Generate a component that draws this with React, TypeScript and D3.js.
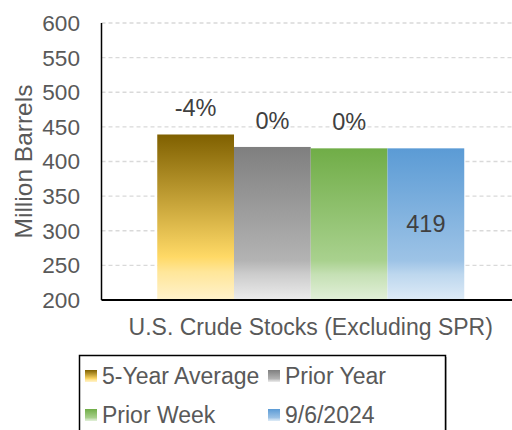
import React, { useRef, useEffect } from "react";
import * as d3 from "d3";

// data
const categories = ["U.S. Crude Stocks (Excluding SPR)"];
const seriesNames = ["5-Year Average", "Prior Year", "Prior Week", "9/6/2024"];
const seriesValues = [439, 421, 419, 419];
const barLabels = ["-4%", "0%", "0%", "419"];
const yTicks = [200, 250, 300, 350, 400, 450, 500, 550, 600];

// gradient stops per series: [offset, color]
const gradients: [number, string][][] = [
  [[0, "#7f6000"], [0.74, "#ffd966"], [0.83, "#ffe699"], [1, "#fff2cc"]],
  [[0, "#7f7f7f"], [0.74, "#b3b3b3"], [0.83, "#cccccc"], [1, "#ececec"]],
  [[0, "#70ad47"], [0.74, "#a9d18e"], [0.83, "#c5e0b4"], [1, "#e2f0d9"]],
  [[0, "#5b9bd5"], [0.74, "#9dc3e6"], [0.83, "#bdd7ee"], [1, "#deebf7"]],
];

const App: React.FC = () => {
  const svgRef = useRef<SVGSVGElement | null>(null);

  useEffect(() => {
    if (!svgRef.current) return;
    const svg = d3.select(svgRef.current);
    svg.selectAll("*").remove();

    const font = "Arial, 'Liberation Sans', sans-serif";
    const textColor = "#595959";

    // plot area
    const left = 101.5;
    const right = 520;
    const top = 23;
    const bottom = 300;

    const y = d3.scaleLinear().domain([200, 600]).range([bottom, top]);
    const x0 = d3
      .scaleBand<string>()
      .domain(categories)
      .range([left, right])
      .padding(0.1537);
    const x1 = d3
      .scaleBand<string>()
      .domain(seriesNames)
      .range([0, x0.bandwidth()])
      .padding(0);

    // gradients
    const defs = svg.append("defs");
    gradients.forEach((stops, i) => {
      const g = defs
        .append("linearGradient")
        .attr("id", `grad${i}`)
        .attr("x1", 0)
        .attr("y1", 0)
        .attr("x2", 0)
        .attr("y2", 1);
      stops.forEach(([o, c]) => {
        g.append("stop").attr("offset", o).attr("stop-color", c);
      });
    });

    // gridlines
    svg
      .append("g")
      .selectAll("line")
      .data(yTicks.filter((t) => t > 200))
      .enter()
      .append("line")
      .attr("x1", left)
      .attr("x2", 512)
      .attr("y1", (d) => y(d))
      .attr("y2", (d) => y(d))
      .attr("stroke", "#d9d9d9")
      .attr("stroke-width", 1.3)
      .attr("stroke-dasharray", "4 3");

    // y tick labels
    svg
      .append("g")
      .selectAll("text")
      .data(yTicks)
      .enter()
      .append("text")
      .attr("x", 80)
      .attr("y", (d) => y(d))
      .attr("dy", "0.35em")
      .attr("text-anchor", "end")
      .attr("font-family", font)
      .attr("font-size", 22.6)
      .attr("fill", textColor)
      .text((d) => d);

    // axis title
    svg
      .append("text")
      .attr("transform", `translate(32,161.5) rotate(-90)`)
      .attr("text-anchor", "middle")
      .attr("font-family", font)
      .attr("font-size", 24.5)
      .attr("fill", textColor)
      .text("Million Barrels");

    // bars
    const cat = categories[0];
    const barX = (i: number) => x0(cat)! + x1(seriesNames[i])!;
    svg
      .append("g")
      .selectAll("rect")
      .data(seriesValues)
      .enter()
      .append("rect")
      .attr("x", (_, i) => barX(i))
      .attr("y", (d) => y(d))
      .attr("width", x1.bandwidth())
      .attr("height", (d) => bottom - y(d))
      .attr("fill", (_, i) => `url(#grad${i})`);

    // bar labels (last one sits inside the bar)
    svg
      .append("g")
      .selectAll("text")
      .data(seriesValues)
      .enter()
      .append("text")
      .attr("x", (_, i) => barX(i) + x1.bandwidth() / 2)
      .attr("y", (d, i) =>
        i === seriesValues.length - 1 ? (y(d) + bottom) / 2 : y(d) - 18
      )
      .attr("dy", (_, i) => (i === seriesValues.length - 1 ? "0.35em" : 0))
      .attr("text-anchor", "middle")
      .attr("font-family", font)
      .attr("font-size", 23.5)
      .attr("fill", "#404040")
      .text((_, i) => barLabels[i]);

    // axes lines
    svg
      .append("line")
      .attr("x1", left)
      .attr("x2", left)
      .attr("y1", top)
      .attr("y2", bottom)
      .attr("stroke", "#000")
      .attr("stroke-width", 1.5);
    svg
      .append("line")
      .attr("x1", left)
      .attr("x2", 512)
      .attr("y1", bottom)
      .attr("y2", bottom)
      .attr("stroke", "#000")
      .attr("stroke-width", 2);

    // category label
    svg
      .append("text")
      .attr("x", x0(cat)! + x0.bandwidth() / 2)
      .attr("y", 335)
      .attr("text-anchor", "middle")
      .attr("font-family", font)
      .attr("font-size", 23)
      .attr("fill", textColor)
      .text(cat);

    // legend
    const legend = svg.append("g");
    legend
      .append("rect")
      .attr("x", 81)
      .attr("y", 357)
      .attr("width", 366)
      .attr("height", 90)
      .attr("fill", "#bfbfbf");
    legend
      .append("rect")
      .attr("x", 79.5)
      .attr("y", 355.5)
      .attr("width", 366)
      .attr("height", 90)
      .attr("fill", "#fff")
      .attr("stroke", "#000")
      .attr("stroke-width", 1.5);

    const colX = [85, 268];
    const rowY = [370, 409];
    seriesNames.forEach((name, i) => {
      const cx = colX[i % 2];
      const ry = rowY[Math.floor(i / 2)];
      legend
        .append("rect")
        .attr("x", cx)
        .attr("y", ry)
        .attr("width", 12)
        .attr("height", 12)
        .attr("fill", `url(#grad${i})`);
      legend
        .append("text")
        .attr("x", cx + 17)
        .attr("y", ry + 13.5)
        .attr("font-family", font)
        .attr("font-size", 23)
        .attr("fill", textColor)
        .text(name);
    });
  }, []);

  return (
    <svg
      ref={svgRef}
      width={512}
      height={430}
      style={{ position: "absolute", left: 0, top: 0, background: "#fff" }}
    ></svg>
  );
};

export default App;
